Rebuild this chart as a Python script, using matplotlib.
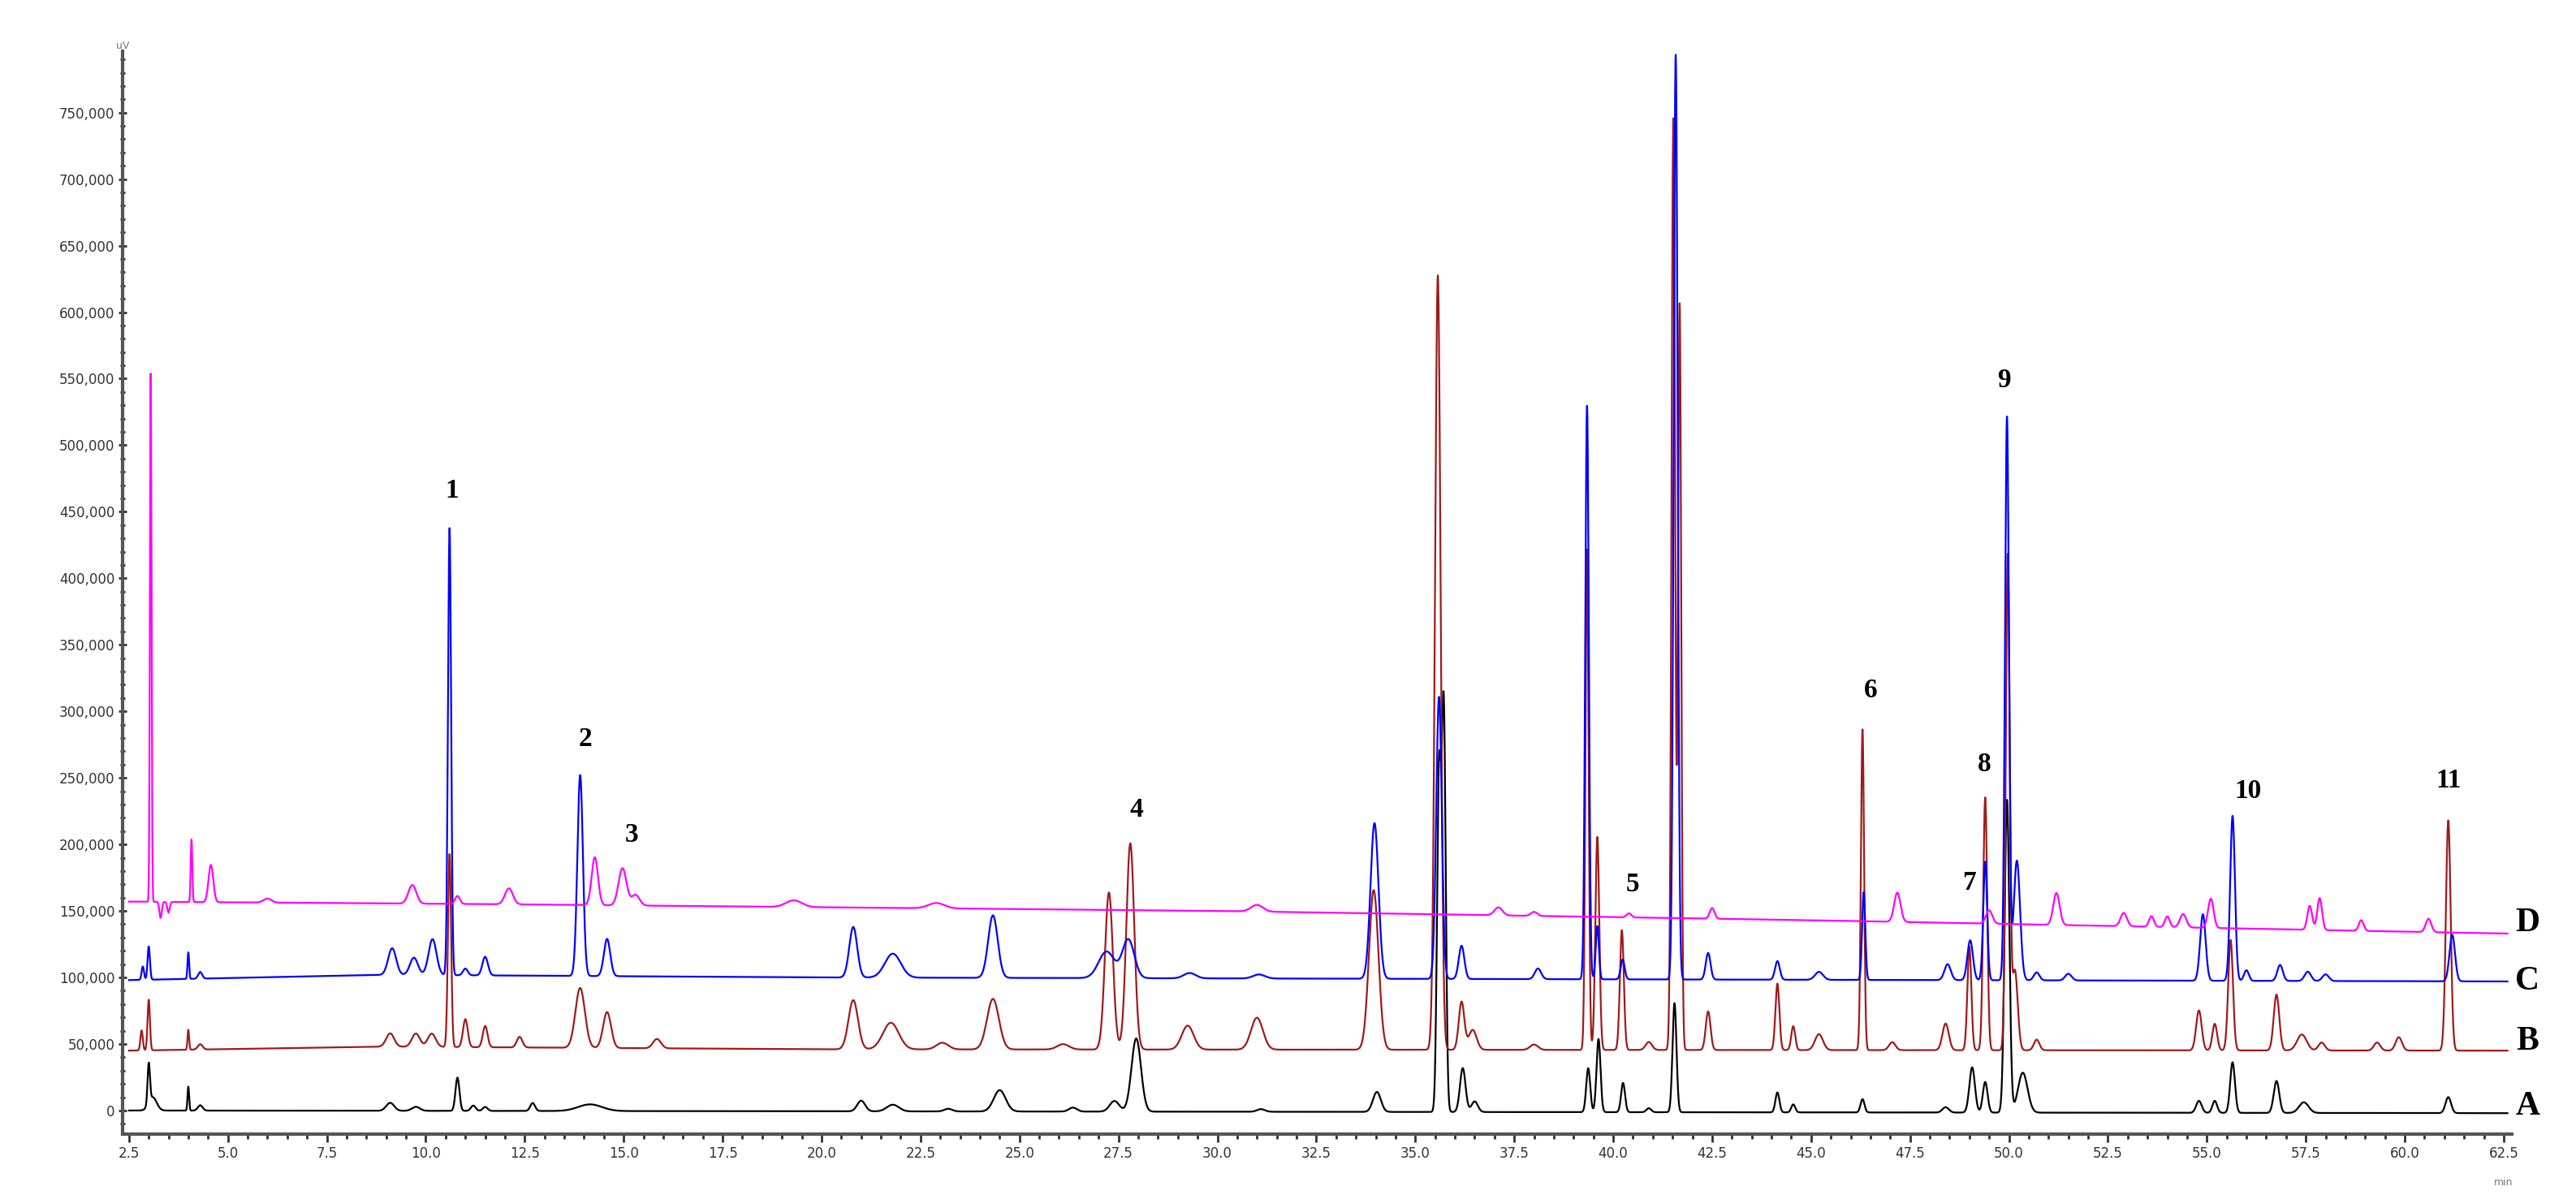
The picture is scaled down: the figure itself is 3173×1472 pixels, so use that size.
import numpy as np
import matplotlib
matplotlib.use("Agg")
import matplotlib.pyplot as plt
from matplotlib.ticker import MultipleLocator, FuncFormatter

# ---- data: peaks (retention time [min], height above baseline [uV], width sigma [min]) ----
A_rt = [3.0, 3.1, 4.0, 4.3, 9.1, 9.75, 10.8, 11.2, 11.5, 12.7, 14.15, 21.0, 21.8, 23.2, 24.5, 26.35, 27.4, 27.95,
        31.1, 34.03, 35.6, 35.72, 36.2, 36.5, 39.37, 39.63, 40.25, 40.9, 41.55, 44.15, 44.55, 46.3, 48.4, 49.07,
        49.4, 49.95, 50.35, 54.8, 55.2, 55.65, 56.76, 57.45, 61.1]
A_h = [30000, 10000, 18000, 4000, 6000, 3000, 25000, 4000, 3000, 6000, 5000, 8000, 5000, 2000, 16000, 3000, 8000, 55000,
       2000, 15000, 250000, 300000, 33000, 8000, 33000, 55000, 22000, 3000, 82000, 15000, 6000, 10000, 4000, 34000,
       23000, 235000, 30000, 9000, 9000, 38000, 24000, 8000, 12000]
A_w = [0.03, 0.1, 0.02, 0.06, 0.1, 0.1, 0.05, 0.06, 0.06, 0.06, 0.3, 0.1, 0.15, 0.1, 0.15, 0.1, 0.12, 0.12,
       0.1, 0.1, 0.05, 0.05, 0.07, 0.08, 0.05, 0.05, 0.05, 0.06, 0.05, 0.05, 0.05, 0.05, 0.08, 0.07,
       0.06, 0.06, 0.12, 0.07, 0.06, 0.06, 0.07, 0.12, 0.07]

B_rt = [2.82, 3.0, 4.0, 4.3, 9.1, 9.75, 10.15, 10.6, 11.0, 11.5, 12.37, 13.9, 14.58, 15.84, 20.8, 21.75, 23.05,
        24.33, 26.1, 27.26, 27.8, 29.25, 31.0, 33.95, 35.57, 36.17, 36.45, 38.0, 39.34, 39.6, 40.22, 40.9, 41.52, 41.68,
        42.4, 44.15, 44.55, 45.2, 46.3, 47.05, 48.4, 49.0, 49.4, 49.97, 50.15, 50.7, 54.8, 55.2, 55.6, 56.76,
        57.4, 57.9, 59.3, 59.85, 61.1]
B_h = [15000, 38000, 15000, 4000, 10000, 10000, 10000, 145000, 21000, 16000, 8000, 45000, 27000, 7000, 37000, 20000, 5000,
       38000, 4000, 118000, 155000, 18000, 24000, 120000, 582000, 36000, 15000, 4000, 376000, 160000, 90000, 6000, 700000, 560000,
       29000, 50000, 18000, 12000, 241000, 6000, 20000, 78000, 190000, 371000, 60000, 8000, 30000, 20000, 83000, 42000,
       12000, 6000, 6000, 10000, 173000]
B_w = [0.03, 0.03, 0.02, 0.06, 0.1, 0.1, 0.1, 0.04, 0.06, 0.06, 0.07, 0.12, 0.1, 0.1, 0.12, 0.2, 0.15,
       0.15, 0.15, 0.1, 0.1, 0.15, 0.15, 0.12, 0.07, 0.07, 0.1, 0.1, 0.04, 0.05, 0.05, 0.08, 0.045, 0.04,
       0.06, 0.05, 0.05, 0.1, 0.04, 0.08, 0.08, 0.05, 0.05, 0.05, 0.07, 0.07, 0.07, 0.06, 0.06, 0.07,
       0.12, 0.08, 0.08, 0.08, 0.06]

C_rt = [2.85, 3.0, 4.0, 4.3, 9.15, 9.7, 10.17, 10.6, 11.0, 11.5, 13.9, 14.58, 20.8, 21.8, 24.33, 27.2, 27.75, 29.3,
        31.05, 33.97, 35.6, 36.17, 38.1, 39.34, 39.6, 40.24, 41.58, 42.4, 44.15, 45.2, 46.33, 48.45, 49.02, 49.4, 49.95,
        50.2, 50.7, 51.5, 54.9, 55.65, 56.0, 56.85, 57.55, 58.0, 61.2]
C_h = [10000, 25000, 20000, 5000, 20000, 13000, 27000, 336000, 5000, 14000, 151000, 28000, 38000, 18000, 47000, 20000, 29000, 4000,
       3000, 117000, 212000, 25000, 8000, 431000, 40000, 15000, 695000, 20000, 14000, 6000, 66000, 12000, 30000, 89000, 423000,
       90000, 6000, 5000, 50000, 124000, 8000, 12000, 7000, 5000, 35000]
C_w = [0.03, 0.03, 0.02, 0.05, 0.1, 0.1, 0.1, 0.04, 0.06, 0.07, 0.07, 0.08, 0.1, 0.2, 0.12, 0.2, 0.15, 0.15,
       0.15, 0.1, 0.07, 0.07, 0.08, 0.045, 0.04, 0.05, 0.05, 0.06, 0.06, 0.1, 0.04, 0.08, 0.07, 0.05, 0.05,
       0.08, 0.07, 0.08, 0.07, 0.06, 0.06, 0.07, 0.08, 0.08, 0.07]

D_rt = [3.05, 3.3, 3.5, 4.08, 4.57, 6.0, 9.66, 10.8, 12.1, 14.27, 14.97, 15.3, 19.3, 22.9, 31.0, 37.1, 38.0, 40.4,
        42.5, 47.18, 49.5, 51.2, 52.9, 53.6, 54.0, 54.4, 55.1, 57.6, 57.85, 58.9, 60.6]
D_h = [397000, -12000, -8000, 47000, 28000, 3000, 14000, 6000, 12000, 36000, 28000, 8000, 5000, 4000, 5000, 6000, 3000, 3000,
       8000, 22000, 10000, 24000, 10000, 8000, 8000, 10000, 22000, 18000, 24000, 8000, 10000]
D_w = [0.02, 0.03, 0.03, 0.02, 0.06, 0.1, 0.1, 0.06, 0.1, 0.08, 0.1, 0.1, 0.2, 0.2, 0.15, 0.1, 0.08, 0.06,
       0.06, 0.08, 0.08, 0.08, 0.08, 0.06, 0.06, 0.08, 0.07, 0.06, 0.06, 0.06, 0.07]

# baselines (knots: time, level)
A_base_t, A_base_v = [2.5, 62.5], [0, -2000]
B_base_t, B_base_v = [2.5, 9.0, 20.0, 62.5], [45000, 48000, 46000, 45000]
C_base_t, C_base_v = [2.5, 9.0, 20.0, 62.5], [98000, 102000, 100000, 97000]
D_base_t, D_base_v = [2.5, 12.0, 15.5, 30.0, 45.0, 62.5], [157000, 155000, 154000, 150000, 143000, 133000]

peak_labels = ["1", "2", "3", "4", "5", "6", "7", "8", "9", "10", "11"]
peak_label_t = [10.66, 14.03, 15.2, 27.95, 40.5, 46.5, 49.0, 49.37, 49.87, 56.05, 61.1]
peak_label_v = [466000, 279000, 207000, 226000, 170000, 316000, 171000, 260000, 549000, 240000, 248000]

trace_names = ["A", "B", "C", "D"]
trace_label_v = [3000, 52000, 97000, 141000]
trace_colors = ["#000000", "#9e1b1b", "#0000ff", "#ff00ff"]

y_ticks = list(range(0, 800001, 50000))

# ---- build signals ----
t = np.arange(2.5, 62.6, 0.005)

def signal(rt, h, w, bt, bv):
    y = np.interp(t, bt, bv).astype(float)
    for r, hh, ww in zip(rt, h, w):
        y += hh * np.exp(-0.5 * ((t - r) / ww) ** 2)
    return y

traces = [signal(A_rt, A_h, A_w, A_base_t, A_base_v),
          signal(B_rt, B_h, B_w, B_base_t, B_base_v),
          signal(C_rt, C_h, C_w, C_base_t, C_base_v),
          signal(D_rt, D_h, D_w, D_base_t, D_base_v)]

fig = plt.figure(figsize=(31.73, 14.72), dpi=100)
ax = fig.add_axes([0.0476, 0.051, 0.9274, 0.906])
for y, c in zip(traces, trace_colors):
    ax.plot(t, y, color=c, lw=1.6)

ax.set_xlim(2.34, 62.7)
ax.set_ylim(-17700, 796000)
for s in ["top", "right"]:
    ax.spines[s].set_visible(False)
for s in ["left", "bottom"]:
    ax.spines[s].set_color("#555555")
    ax.spines[s].set_linewidth(3)
ax.xaxis.set_major_locator(MultipleLocator(2.5))
ax.xaxis.set_minor_locator(MultipleLocator(0.5))
ax.set_yticks(y_ticks[:16])
ax.yaxis.set_minor_locator(MultipleLocator(10000))
ax.xaxis.set_major_formatter(FuncFormatter(lambda v, p: f"{v:.1f}"))
ax.yaxis.set_major_formatter(FuncFormatter(lambda v, p: f"{int(v):,}"))
ax.tick_params(axis="both", which="major", length=7, width=2, color="#333333", labelsize=12, labelcolor="#333333")
ax.tick_params(axis="both", which="minor", length=4, width=2, color="#333333")
ax.tick_params(axis="y", which="both", direction="inout")

ax.text(0, 1.0, "uV", transform=ax.transAxes, fontsize=9, color="#777777", ha="center", va="bottom")
ax.text(62.5, -50000, "min", fontsize=9, color="#777777", ha="center", va="top")

for lab, lt, lv in zip(peak_labels, peak_label_t, peak_label_v):
    ax.text(lt, lv, lab, fontsize=24, fontweight="bold", family="Liberation Serif", ha="center", va="center")
for name, lv in zip(trace_names, trace_label_v):
    ax.text(63.1, lv, name, fontsize=30, fontweight="bold", family="Liberation Serif",
            ha="center", va="center", clip_on=False)

fig.savefig("out.png", dpi=100)
